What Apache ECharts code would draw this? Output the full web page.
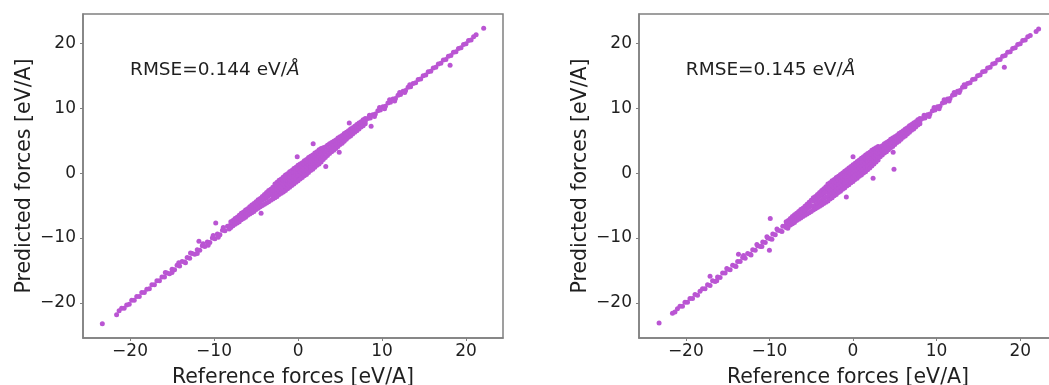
<!DOCTYPE html>
<html><head><meta charset="utf-8">
<script src="https://cdn.jsdelivr.net/npm/echarts@6/dist/echarts.min.js"></script>
<style>html,body{margin:0;padding:0;background:#fff;overflow:hidden}#c{width:1049px;height:385px}</style>
</head><body><div id="c"></div>
<script>
// ---- data (rows: [reference force, predicted force(s)...]) ----
const tickValues = [-20, -10, 0, 10, 20];
const xLimits = [-25.6, 24.4];
const yLimits = [-25.4, 24.5];
const rmseTexts = ['RMSE=0.144 eV/', 'RMSE=0.145 eV/'];
const rmseUnitSymbol = 'Å';
const rmseAnchor = [-20, 15];
const xAxisTitle = 'Reference forces [eV/A]';
const yAxisTitle = 'Predicted forces [eV/A]';

const leftRows = [
  [-23.3,-23.2],
  [-21.6,-21.8],[-21.3,-21.2],[-21.0,-20.8],[-20.7,-20.8],[-20.4,-20.3],[-20.1,-20.2],[-19.8,-19.6],[-19.5,-19.6],[-19.2,-19.0],[-18.9,-19.0],
  [-18.6,-18.4],[-18.3,-18.4],[-18.0,-17.9],[-17.7,-17.8],[-17.4,-17.2],[-17.1,-17.2],[-16.8,-16.6],[-16.5,-16.6],[-16.2,-16.0],[-15.9,-16.0],
  [-15.6,-15.4],[-15.3,-15.5],[-15.0,-14.8],[-14.7,-14.9],[-14.4,-14.2],[-14.1,-14.3],[-13.8,-13.6],[-13.5,-13.7],[-13.2,-13.0],[-12.9,-13.1],
  [-12.6,-12.4],[-12.3,-12.5],[-12.0,-11.8],[-11.7,-11.9],[-11.4,-11.2],[-11.1,-11.3],[-10.8,-10.6],[-10.5,-10.7],[-10.2,-10.0],[-9.9,-10.1],
  [-9.6,-9.4],[-9.3,-9.5],[-9.0,-8.8],[-8.7,-8.9],[-8.4,-8.2],
  [-15.8,-15.3],[-15.0,-15.3],[-14.2,-13.8],[-13.4,-13.8],[-12.8,-12.3],[-12.0,-12.4],[-11.3,-10.9],[-10.7,-11.1],[-10.1,-9.6],[-9.5,-9.9],[-8.9,-8.4],[-8.2,-8.6],
  [-9.8,-7.7],[-11.8,-10.5],[-4.4,-6.2],
  [-8.0,-8.4,-7.9,-7.5],[-7.75,-8.1,-7.7,-7.3],[-7.5,-7.9,-7.4,-7.0],[-7.25,-7.7,-7.2,-6.8],[-7.0,-7.5,-6.9,-6.5],
  [-6.75,-7.2,-6.7,-6.2],[-6.5,-7.0,-6.5,-6.0],[-6.25,-6.8,-6.2,-5.7],[-6.0,-6.5,-6.0,-5.5],[-5.75,-6.3,-5.7,-5.2],
  [-5.5,-6.1,-5.5,-4.9],[-5.25,-5.9,-5.2,-4.7],[-5.0,-5.6,-5.0,-4.4],[-4.75,-5.4,-4.7,-4.1],[-4.5,-5.2,-4.5,-3.9],
  [-4.25,-5.0,-4.2,-3.6],[-4.0,-4.8,-4.0,-3.3],[-3.75,-4.6,-3.8,-3.0],[-3.5,-4.4,-3.5,-2.7],[-3.25,-4.2,-3.2,-2.5],
  [-3.0,-4.0,-3.5,-3.0,-2.6,-2.2],[-2.75,-3.8,-3.2,-2.7,-2.2,-1.7],[-2.5,-3.6,-3.0,-2.5,-1.9,-1.4],[-2.25,-3.3,-2.8,-2.2,-1.7,-1.1],
  [-2.0,-3.1,-2.5,-2.0,-1.4,-0.9],[-1.75,-2.9,-2.3,-1.7,-1.2,-0.6],[-1.5,-2.7,-2.0,-1.5,-0.9,-0.3],[-1.25,-2.4,-1.8,-1.2,-0.7,-0.1],
  [-1.0,-2.2,-1.5,-1.0,-0.4,0.2],[-0.75,-1.9,-1.3,-0.7,-0.2,0.4],[-0.5,-1.7,-1.0,-0.5,0.1,0.7],[-0.25,-1.4,-0.8,-0.2,0.3,0.9],
  [0,-1.2,-0.5,0.0,0.6,1.2],[0.25,-0.9,-0.3,0.3,0.8,1.4],[0.5,-0.7,0.0,0.5,1.1,1.6],[0.75,-0.4,0.2,0.8,1.3,1.9],
  [1.0,-0.2,0.5,1.0,1.6,2.1],[1.25,0.1,0.7,1.3,1.8,2.4],[1.5,0.4,1.0,1.5,2.0,2.6],[1.75,0.6,1.2,1.8,2.3,2.8],
  [2.0,0.9,1.5,2.0,2.5,3.1],[2.25,1.2,1.7,2.3,2.8,3.3],[2.5,1.4,2.0,2.5,3.0,3.6],[2.75,1.7,2.2,2.8,3.3,3.8],[3.0,2.1,2.5,3.0,3.5,3.9],
  [3.25,2.4,3.2,4.0],[3.5,2.7,3.5,4.3],[3.75,3.0,3.7,4.5],[4.0,3.3,4.0,4.7],[4.25,3.5,4.2,4.9],
  [4.5,3.8,4.5,5.1],[4.75,4.1,4.7,5.4],[5.0,4.4,5.0,5.6],[5.25,4.6,5.2,5.8],[5.5,4.9,5.5,6.1],
  [5.75,5.2,5.8,6.3],[6.0,5.5,6.0,6.5],[6.25,5.7,6.2,6.8],[6.5,6.0,6.5,7.0],[6.75,6.3,6.8,7.2],
  [7.0,6.5,7.0,7.5],[7.25,6.8,7.2,7.7],[7.5,7.1,7.5,7.9],[7.75,7.3,7.8,8.2],[8.0,7.6,8.0,8.4],
  [1.8,4.5],[-0.1,2.5],[3.3,1.0],[4.9,3.2],[6.1,7.7],[8.7,7.2],
  [8.3,8.4],[8.6,8.5],[8.9,9.0],[9.2,9.1],[9.5,9.6],[9.8,9.7],[10.1,10.2],[10.4,10.3],[10.7,10.8],[11.0,10.9],
  [11.3,11.4],[11.6,11.5],[11.9,12.0],[12.2,12.1],[12.5,12.6],[12.8,12.7],[13.1,13.2],[13.4,13.3],[13.7,13.8],[14.0,13.9],
  [14.3,14.4],[14.6,14.5],[14.9,15.0],[15.2,15.1],[15.5,15.6],[15.8,15.7],[16.1,16.2],[16.4,16.3],[16.7,16.8],[17.0,16.9],
  [17.3,17.4],[17.6,17.5],[17.9,18.0],[18.2,18.1],[18.5,18.6],[18.8,18.7],[19.1,19.2],[19.4,19.3],[19.7,19.8],[20.0,19.9],
  [20.3,20.4],[20.6,20.5],[20.9,21.0],[21.2,21.3],[22.1,22.3],
  [8.5,8.9],[9.1,8.7],[9.7,10.1],[10.3,9.9],[10.9,11.3],[11.5,11.1],[12.1,12.4],[12.7,12.4],[13.3,13.6],
  [18.1,16.6]
];

const rightRows = [
  [-23.2,-23.1],
  [-21.6,-21.6],[-21.3,-21.4],[-21.0,-20.9],[-20.7,-20.5],[-20.4,-20.5],[-20.1,-19.9],[-19.8,-19.9],[-19.5,-19.3],[-19.2,-19.3],[-18.9,-18.7],
  [-18.6,-18.8],[-18.3,-18.2],[-18.0,-17.8],[-17.7,-17.8],[-17.4,-17.2],[-17.1,-17.3],[-16.8,-16.6],[-16.5,-16.7],[-16.2,-16.0],[-15.9,-16.1],
  [-15.6,-15.4],[-15.3,-15.4],[-15.0,-14.8],[-14.7,-14.9],[-14.4,-14.2],[-14.1,-14.3],[-13.8,-13.6],[-13.5,-13.6],[-13.2,-13.0],[-12.9,-13.1],
  [-12.6,-12.4],[-12.3,-12.5],[-12.0,-11.8],[-11.7,-11.9],[-11.4,-11.2],[-11.1,-11.3],[-10.8,-10.6],[-10.5,-10.7],[-10.2,-10.0],[-9.9,-10.1],
  [-9.6,-9.4],[-9.3,-9.5],[-9.0,-8.8],[-8.7,-8.9],[-8.4,-8.2],
  [-16.3,-16.6],[-15.1,-14.7],[-14.0,-14.4],[-13.1,-12.7],[-12.2,-12.6],[-11.5,-11.0],[-10.9,-11.3],[-10.3,-9.8],[-9.7,-10.2],[-9.1,-8.6],[-8.5,-9.0],
  [-17.1,-15.9],[-13.7,-12.5],[-10.0,-11.9],[-9.9,-7.0],[-7.8,-8.5],[-0.8,-3.7],
  [-8.0,-8.4,-8.0,-7.5],[-7.75,-8.2,-7.7,-7.3],[-7.5,-8.0,-7.5,-7.0],[-7.25,-7.8,-7.2,-6.7],[-7.0,-7.6,-7.0,-6.4],
  [-6.75,-7.3,-6.7,-6.2],[-6.5,-7.1,-6.5,-5.9],[-6.25,-6.9,-6.3,-5.6],[-6.0,-6.7,-6.0,-5.4],[-5.75,-6.5,-5.8,-5.1],
  [-5.5,-6.3,-5.5,-4.8],[-5.25,-6.1,-5.3,-4.5],[-5.0,-5.9,-5.0,-4.2],[-4.75,-5.7,-5.2,-4.3,-3.8],[-4.5,-5.5,-4.9,-4.1,-3.6],
  [-4.25,-5.3,-4.6,-3.9,-3.3],[-4.0,-5.1,-4.4,-3.6,-3.0],[-3.75,-4.9,-4.2,-3.4,-2.7],[-3.5,-4.7,-3.9,-3.1,-2.4],[-3.25,-4.5,-3.7,-2.9,-2.1],
  [-3.0,-4.3,-3.6,-3.0,-2.4,-1.7],[-2.75,-4.0,-3.4,-2.7,-2.1,-1.5],[-2.5,-3.8,-3.1,-2.5,-1.9,-1.2],[-2.25,-3.5,-2.9,-2.2,-1.6,-1.0],
  [-2.0,-3.3,-2.6,-2.0,-1.4,-0.7],[-1.75,-3.0,-2.4,-1.7,-1.1,-0.5],[-1.5,-2.8,-2.1,-1.5,-0.9,-0.2],[-1.25,-2.5,-1.9,-1.2,-0.6,0.0],
  [-1.0,-2.3,-1.6,-1.0,-0.4,0.3],[-0.75,-2.0,-1.4,-0.7,-0.1,0.5],[-0.5,-1.8,-1.1,-0.5,0.2,0.8],[-0.25,-1.5,-0.9,-0.2,0.4,1.0],
  [0,-1.3,-0.6,0.0,0.7,1.3],[0.25,-1.0,-0.4,0.3,0.9,1.5],[0.5,-0.8,-0.1,0.5,1.2,1.8],[0.75,-0.5,0.1,0.8,1.4,2.0],
  [1.0,-0.3,0.4,1.0,1.7,2.3],[1.25,0.0,0.6,1.3,1.9,2.5],[1.5,0.2,0.9,1.5,2.2,2.8],[1.75,0.5,1.1,1.8,2.4,3.0],
  [2.0,0.8,1.4,2.0,2.6,3.2],[2.25,1.1,1.7,2.3,2.9,3.5],[2.5,1.4,1.9,2.5,3.1,3.7],[2.75,1.7,2.2,2.8,3.3,3.9],[3.0,2.0,2.5,3.0,3.6,4.1],
  [3.25,2.5,3.2,4.0],[3.5,2.8,3.5,4.2],[3.75,3.1,3.8,4.5],[4.0,3.3,4.0,4.7],[4.25,3.6,4.3,4.9],
  [4.5,3.9,4.5,5.2],[4.75,4.1,4.8,5.4],[5.0,4.4,5.0,5.6],[5.25,4.7,5.3,5.8],[5.5,4.9,5.5,6.1],
  [5.75,5.2,5.8,6.3],[6.0,5.5,6.0,6.5],[6.25,5.7,6.2,6.8],[6.5,6.0,6.5,7.0],[6.75,6.3,6.8,7.3],
  [7.0,6.6,7.0,7.5],[7.25,6.8,7.3,7.7],[7.5,7.1,7.5,7.9],[7.75,7.4,7.8,8.2],[8.0,7.6,8.0,8.4],
  [0.0,2.5],[2.4,-0.8],[4.9,0.6],[4.8,3.2],
  [8.3,8.4],[8.6,8.5],[8.9,9.0],[9.2,9.1],[9.5,9.6],[9.8,9.7],[10.1,10.2],[10.4,10.3],[10.7,10.8],[11.0,10.9],
  [11.3,11.4],[11.6,11.5],[11.9,12.0],[12.2,12.1],[12.5,12.6],[12.8,12.7],[13.1,13.2],[13.4,13.3],[13.7,13.8],[14.0,13.9],
  [14.3,14.4],[14.6,14.5],[14.9,15.0],[15.2,15.1],[15.5,15.6],[15.8,15.7],[16.1,16.2],[16.4,16.3],[16.7,16.8],[17.0,16.9],
  [17.3,17.4],[17.6,17.5],[17.9,18.0],[18.2,18.1],[18.5,18.6],[18.8,18.7],[19.1,19.2],[19.4,19.3],[19.7,19.8],[20.0,19.9],
  [20.3,20.4],[20.6,20.5],[20.9,21.0],[21.2,21.2],[21.9,21.8],[22.2,22.2],
  [8.5,8.9],[9.1,8.7],[9.7,10.1],[10.3,9.9],[10.9,11.3],[11.5,11.1],[12.1,12.4],[12.7,12.4],[13.3,13.6],
  [18.1,16.3]
];

// ---- build ----
function toPoints(rows) {
  const pts = [];
  rows.forEach(r => { for (let i = 1; i < r.length; i++) pts.push([r[0], r[i]]); });
  return pts;
}
const FONT = 'DejaVu Sans';
const TXT = '#1f1f1f';
const FRAME = '#808080';
const DOT = '#ba55d3';
const fmt = v => String(v).replace('-', '\u2212');

function xAxisCfg(gi) {
  return {
    type: 'value', gridIndex: gi, min: xLimits[0], max: xLimits[1],
    name: xAxisTitle, nameLocation: 'middle', nameGap: 29,
    nameTextStyle: { fontFamily: FONT, fontSize: 20.5, color: TXT },
    axisLine: { show: true, onZero: false, lineStyle: { color: FRAME, width: 1.5 } },
    axisTick: { show: true, length: 3, customValues: tickValues, lineStyle: { color: FRAME, width: 1 } },
    axisLabel: { customValues: tickValues, formatter: fmt, margin: 5, fontFamily: FONT, fontSize: 17, color: TXT },
    splitLine: { show: false }
  };
}
function yAxisCfg(gi) {
  return {
    type: 'value', gridIndex: gi, min: yLimits[0], max: yLimits[1],
    name: yAxisTitle, nameLocation: 'middle', nameGap: 48,
    nameTextStyle: { fontFamily: FONT, fontSize: 20.5, color: TXT },
    axisLine: { show: true, onZero: false, lineStyle: { color: FRAME, width: 1.5 } },
    axisTick: { show: true, length: 3, customValues: tickValues, lineStyle: { color: FRAME, width: 1 } },
    axisLabel: { customValues: tickValues, formatter: fmt, margin: 7, fontFamily: FONT, fontSize: 17, color: TXT },
    splitLine: { show: false }
  };
}

const chart = echarts.init(document.getElementById('c'), null, { renderer: 'canvas' });
chart.setOption({
  animation: false,
  backgroundColor: '#ffffff',
  grid: [
    { left: 83, top: 14, width: 420, height: 324, outerBoundsMode: 'none', containLabel: false, show: true, borderColor: FRAME, borderWidth: 1.5, backgroundColor: 'transparent' },
    { left: 639, top: 14, width: 418, height: 324, outerBoundsMode: 'none', containLabel: false, show: true, borderColor: FRAME, borderWidth: 1.5, backgroundColor: 'transparent' }
  ],
  xAxis: [xAxisCfg(0), xAxisCfg(1)],
  yAxis: [yAxisCfg(0), yAxisCfg(1)],
  series: [
    { type: 'scatter', xAxisIndex: 0, yAxisIndex: 0, data: toPoints(leftRows), symbolSize: 5, itemStyle: { color: DOT, opacity: 1 } },
    { type: 'scatter', xAxisIndex: 1, yAxisIndex: 1, data: toPoints(rightRows), symbolSize: 5, itemStyle: { color: DOT, opacity: 1 } }
  ]
});

const graphics = rmseTexts.map((t, gi) => {
  const p = chart.convertToPixel({ gridIndex: gi }, rmseAnchor);
  return {
    type: 'text', x: p[0], y: p[1] + 4,
    style: {
      text: '{n|' + t + '}{i|' + rmseUnitSymbol + '}',
      verticalAlign: 'bottom', align: 'left',
      rich: {
        n: { fontFamily: FONT, fontSize: 18.5, fill: TXT, color: TXT },
        i: { fontFamily: FONT, fontSize: 18.5, fontStyle: 'italic', fill: TXT, color: TXT }
      }
    }
  };
});
chart.setOption({ graphic: graphics });
</script>
</body></html>
